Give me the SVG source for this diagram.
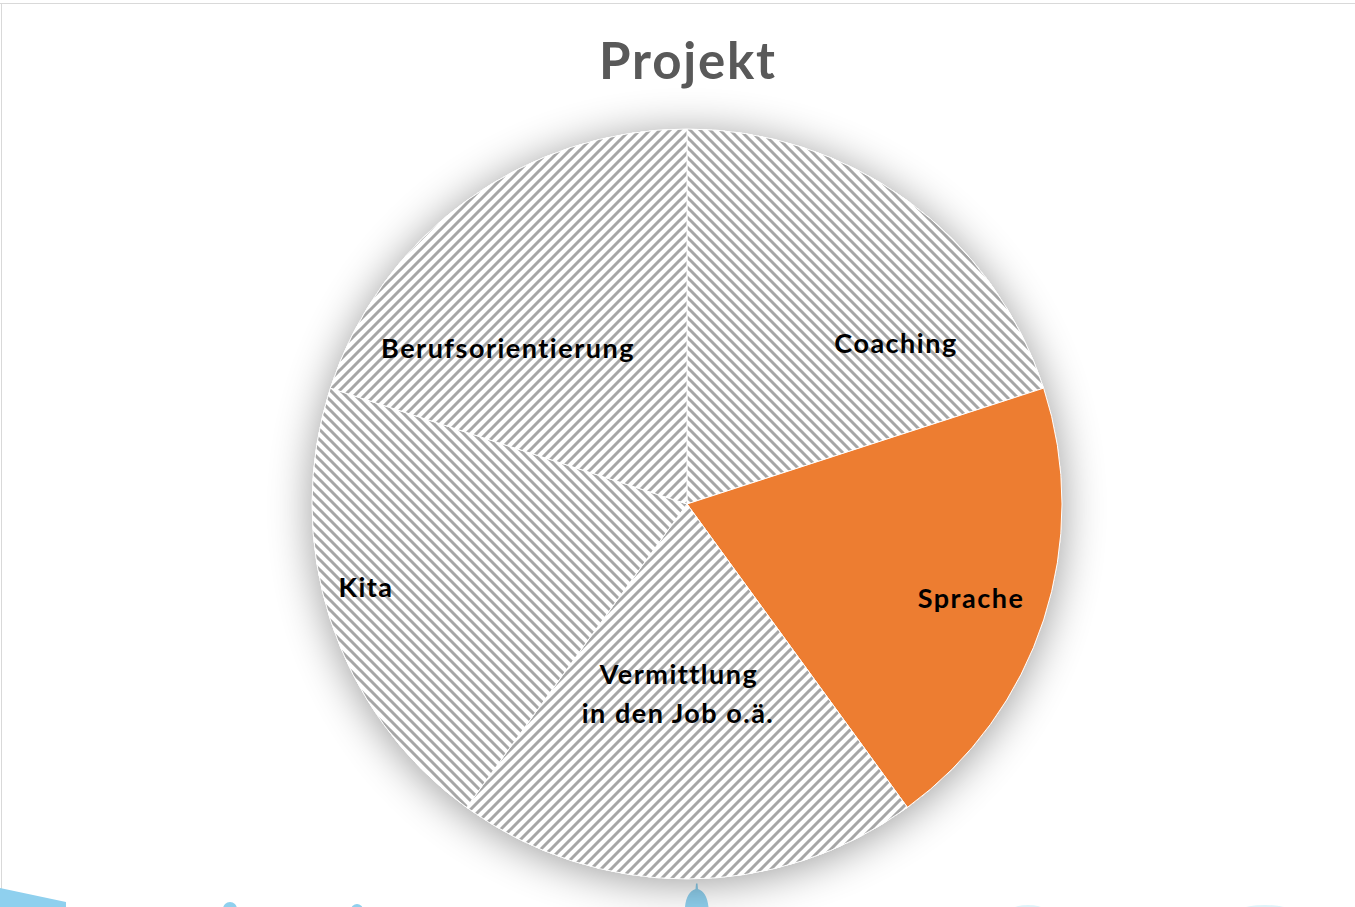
<svg xmlns="http://www.w3.org/2000/svg" width="1355" height="907" viewBox="0 0 1355 907">
  <style>
    .lbl { font-family: Lato, "Open Sans", "Liberation Sans", sans-serif; font-weight: bold; font-size: 27px; letter-spacing: 1.5px; fill: #000; text-anchor: middle; }
    .title { font-family: Lato, "Open Sans", "Liberation Sans", sans-serif; font-weight: bold; font-size: 51px; letter-spacing: 1.8px; fill: #595959; text-anchor: middle; }
    .slice { stroke: #ffffff; stroke-width: 1; }
    .deco { fill: #8fd0ee; }
  </style>
  <defs>
    <pattern id="hUp" patternUnits="userSpaceOnUse" width="10" height="10">
      <rect width="10" height="10" fill="#ffffff"/>
      <path d="M-3,3 L3,-3 M0,10 L10,0 M7,13 L13,7" stroke="#a6a6a6" stroke-width="3"/>
    </pattern>
    <pattern id="hDown" patternUnits="userSpaceOnUse" width="10" height="10">
      <rect width="10" height="10" fill="#ffffff"/>
      <path d="M-3,7 L3,13 M0,0 L10,10 M7,-3 L13,3" stroke="#a6a6a6" stroke-width="3"/>
    </pattern>
    <filter id="shadow" x="-25%" y="-25%" width="150%" height="150%">
      <feGaussianBlur in="SourceAlpha" stdDeviation="22"/>
      <feOffset dx="0" dy="4" result="b"/>
      <feComponentTransfer><feFuncA type="linear" slope="0.4"/></feComponentTransfer>
      <feMerge><feMergeNode/><feMergeNode in="SourceGraphic"/></feMerge>
    </filter>
  </defs>

  <rect width="1355" height="907" fill="#ffffff"/>
  <line x1="0" y1="3.5" x2="1355" y2="3.5" stroke="#d9d9d9" stroke-width="1"/>
  <line x1="1.5" y1="3.5" x2="1.5" y2="907" stroke="#d9d9d9" stroke-width="1"/>

  <g id="background-deco">
    <path class="deco" d="M0,888 L66,902 L66,907 L0,907 Z"/>
    <circle class="deco" cx="230" cy="909" r="7"/>
    <circle class="deco" cx="357" cy="910" r="6"/>
    <path class="deco" d="M696,883.5 L697.5,883.5 L698,889 C704,891 707.5,897 708.5,907 L685,907 C686,897 689.5,891 695.5,889 Z"/>
    <ellipse cx="1028" cy="909" rx="15" ry="4" fill="#c9ecf7" opacity="0.6"/>
    <ellipse cx="1265" cy="909" rx="22" ry="4" fill="#c9ecf7" opacity="0.6"/>
  </g>

  <text id="title" class="title" x="688" y="79">Projekt</text>

  <circle cx="687" cy="504" r="375" fill="#ffffff" filter="url(#shadow)"/>

  <g id="slice-coaching">
    <path class="slice" fill="url(#hDown)" d="M687,504 L687,129 A375,375 0 0 1 1043.65,388.12 Z"/>
    <text class="lbl" x="896" y="353">Coaching</text>
  </g>
  <g id="slice-sprache">
    <path class="slice" fill="#ed7d31" d="M687,504 L1043.65,388.12 A375,375 0 0 1 907.42,807.38 Z"/>
    <text class="lbl" x="971" y="608">Sprache</text>
  </g>
  <g id="slice-vermittlung">
    <path class="slice" fill="url(#hUp)" d="M687,504 L907.42,807.38 A375,375 0 0 1 466.58,807.38 Z"/>
    <text class="lbl" x="679" y="684">Vermittlung</text>
    <text class="lbl" x="678" y="723">in den Job o.ä.</text>
  </g>
  <g id="slice-kita">
    <path class="slice" fill="url(#hDown)" d="M687,504 L466.58,807.38 A375,375 0 0 1 330.35,388.12 Z"/>
    <text class="lbl" x="366" y="597">Kita</text>
  </g>
  <g id="slice-berufsorientierung">
    <path class="slice" fill="url(#hUp)" d="M687,504 L330.35,388.12 A375,375 0 0 1 687,129 Z"/>
    <text class="lbl" x="508" y="358">Berufsorientierung</text>
  </g>
  <g id="connectors"/>
</svg>
